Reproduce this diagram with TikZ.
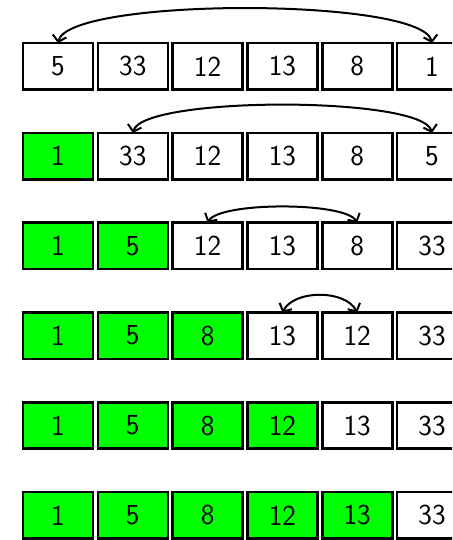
\documentclass[tikz,border=0pt]{standalone}
\usetikzlibrary{arrows.meta}
\definecolor{boxgreen}{RGB}{0,255,0}
\tikzset{
  cell/.style={draw=black, line width=2.6pt, minimum width=70pt, minimum height=46.4pt,
    inner sep=0pt, outer sep=0pt, font=\sffamily\fontsize{29}{34}\selectfont},
  swaparrow/.style={line width=2pt,
    {Straight Barb[length=6pt,width=14pt]}-{Straight Barb[length=6pt,width=14pt]}},
}
\begin{document}
\begin{tikzpicture}[x=1pt,y=-1pt]
\clip (0,0) rectangle (452,540);
\foreach \vals [count=\r] in {{5,33,12,13,8,1},{1,33,12,13,8,5},{1,5,12,13,8,33},{1,5,8,13,12,33},{1,5,8,12,13,33},{1,5,8,12,13,33}}{
  \foreach \v [count=\c] in \vals {
    \ifnum\c<\r \def\fc{boxgreen}\else\def\fc{white}\fi
    \node[cell, fill=\fc] (r\r c\c) at ({58+74.8*(\c-1)}, {66.3+89.8*(\r-1)}) {\v};
  }
}
\draw[swaparrow] (r1c1.north) .. controls +(10,-46) and +(-10,-46) .. (r1c6.north);
\draw[swaparrow] (r2c2.north) .. controls +(10,-37) and +(-10,-37) .. (r2c6.north);
\draw[swaparrow] (r3c3.north) .. controls +(12,-21) and +(-12,-21) .. (r3c5.north);
\draw[swaparrow] (r4c4.north) .. controls +(12,-23) and +(-12,-23) .. (r4c5.north);
\end{tikzpicture}
\end{document}
